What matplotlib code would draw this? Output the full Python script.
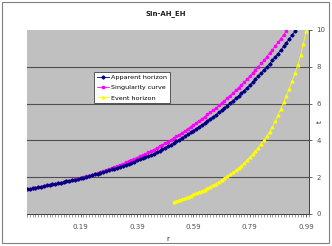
import numpy as np
import matplotlib
matplotlib.use("Agg")
import matplotlib.pyplot as plt
from matplotlib.patches import Rectangle

# ---------------- data ----------------
r_sing = [round(0.01 * i, 2) for i in range(94)]
t_sing = [1.34, 1.37, 1.40, 1.43, 1.46, 1.49, 1.53, 1.56, 1.60, 1.62,
          1.65, 1.68, 1.71, 1.74, 1.78, 1.81, 1.84, 1.88, 1.91, 1.96,
          2.00, 2.05, 2.09, 2.14, 2.19, 2.24, 2.29, 2.34, 2.40, 2.45,
          2.51, 2.56, 2.62, 2.68, 2.74, 2.80, 2.87, 2.93, 3.00, 3.07,
          3.14, 3.21, 3.28, 3.35, 3.43, 3.50, 3.59, 3.67, 3.76, 3.85,
          3.94, 4.03, 4.13, 4.22, 4.32, 4.42, 4.52, 4.63, 4.74, 4.85,
          4.96, 5.07, 5.18, 5.29, 5.41, 5.53, 5.65, 5.77, 5.90, 6.03,
          6.16, 6.30, 6.44, 6.58, 6.73, 6.87, 7.03, 7.18, 7.34, 7.50,
          7.67, 7.83, 8.01, 8.18, 8.36, 8.55, 8.74, 8.93, 9.13, 9.33,
          9.53, 9.74, 9.96, 10.18]

r_app = [round(0.01 * i, 2) for i in range(97)]
t_app = [1.34, 1.37, 1.40, 1.43, 1.46, 1.49, 1.53, 1.56, 1.60, 1.62,
         1.65, 1.68, 1.71, 1.74, 1.78, 1.81, 1.84, 1.87, 1.90, 1.94,
         1.98, 2.02, 2.06, 2.10, 2.15, 2.19, 2.24, 2.28, 2.33, 2.38,
         2.43, 2.47, 2.52, 2.58, 2.63, 2.68, 2.74, 2.79, 2.85, 2.91,
         2.97, 3.03, 3.09, 3.15, 3.21, 3.27, 3.36, 3.43, 3.52, 3.60,
         3.68, 3.77, 3.86, 3.95, 4.04, 4.13, 4.23, 4.33, 4.43, 4.53,
         4.64, 4.74, 4.84, 4.95, 5.06, 5.17, 5.28, 5.39, 5.52, 5.64,
         5.76, 5.89, 6.02, 6.15, 6.29, 6.42, 6.57, 6.71, 6.86, 7.01,
         7.17, 7.32, 7.49, 7.65, 7.82, 7.99, 8.17, 8.35, 8.54, 8.72,
         8.91, 9.11, 9.31, 9.52, 9.72, 9.94, 10.15]

r_ev = [round(0.52 + 0.01 * i, 2) for i in range(48)]
t_ev = [0.65, 0.70, 0.75, 0.81, 0.87, 0.93, 1.00, 1.07, 1.13, 1.20,
        1.26, 1.33, 1.41, 1.49, 1.57, 1.65, 1.74, 1.84, 1.94, 2.04,
        2.15, 2.26, 2.38, 2.50, 2.63, 2.77, 2.92, 3.08, 3.25, 3.42,
        3.61, 3.80, 4.01, 4.23, 4.46, 4.74, 5.05, 5.38, 5.72, 6.07,
        6.43, 6.81, 7.21, 7.64, 8.10, 8.62, 9.25, 9.95]

x_ticks = [0.19, 0.39, 0.59, 0.79, 0.99]
x_tick_labels = ["0.19", "0.39", "0.59", "0.79", "0.99"]
y_ticks = [0, 2, 4, 6, 8, 10]
series_names = ["Apparent horizon", "Singularity curve", "Event horizon"]

# ---------------- figure ----------------
fig = plt.figure(figsize=(3.32, 2.46), dpi=100)
fig.patch.set_facecolor("white")
fig.patches.append(Rectangle((2 / 332, 3 / 246), 327 / 332, 241 / 246,
                             transform=fig.transFigure, fill=False,
                             edgecolor="#808080", linewidth=0.8))

ax = fig.add_axes([27 / 332, 1 - 214 / 246, 282 / 332, 184 / 246])
ax.set_facecolor("#C0C0C0")

for y in [2, 4, 6, 8]:
    ax.axhline(y, color="#505050", linewidth=0.8, zorder=1)

ms = 2.0
ax.plot(r_app, t_app, color="#000080", marker="D", markersize=ms * 0.8,
        linewidth=0.6, label=series_names[0], zorder=3, clip_on=True)
ax.plot(r_sing, t_sing, color="#FF00FF", marker="s", markersize=ms,
        linewidth=0.6, label=series_names[1], zorder=2, clip_on=True)
ax.plot(r_ev, t_ev, color="#FFFF00", marker="^", markersize=ms,
        linewidth=0.6, label=series_names[2], zorder=2, clip_on=True)

ax.set_xlim(0.0, 1.0)
ax.set_ylim(0, 10)

ax.yaxis.tick_right()
ax.set_yticks(y_ticks)
ax.set_yticklabels([str(v) for v in y_ticks])
ax.set_xticks(x_ticks)
ax.set_xticklabels(x_tick_labels)
ax.set_xticks([round(0.01 * i, 2) for i in range(101)], minor=True)

ax.tick_params(axis="x", which="major", length=2.5, width=0.6, pad=5,
               labelsize=5, colors="#505050", direction="out")
ax.tick_params(axis="x", which="minor", length=1.8, width=0.4,
               color="#505050", direction="out")
ax.tick_params(axis="y", which="major", length=2.5, width=0.6, pad=3,
               labelsize=5, colors="#505050", direction="out")

for side in ["top", "left"]:
    ax.spines[side].set_visible(False)
for side in ["bottom", "right"]:
    ax.spines[side].set_color("#404040")
    ax.spines[side].set_linewidth(0.7)

ax.set_xlabel("r", fontsize=5, color="#202020", labelpad=4)
ax.text(1.04, 0.5, "t", transform=ax.transAxes, rotation=90,
        ha="center", va="center", fontsize=5, color="#202020")

fig.text(166 / 332, 1 - 14 / 246, "Sin-AH_EH", ha="center", va="center",
         fontsize=5, fontweight="bold", color="#202020")

leg = ax.legend(loc="upper left", bbox_to_anchor=(67 / 282, 1 - 42 / 184),
                fontsize=4.6, frameon=True, fancybox=False,
                borderpad=0.4, labelspacing=0.75, handlelength=2.0,
                handletextpad=0.3, borderaxespad=0)
leg.get_frame().set_edgecolor("#404040")
leg.get_frame().set_linewidth(0.6)
leg.get_frame().set_facecolor("white")
leg.get_frame().set_alpha(1)

fig.savefig("out.png", dpi=100)
